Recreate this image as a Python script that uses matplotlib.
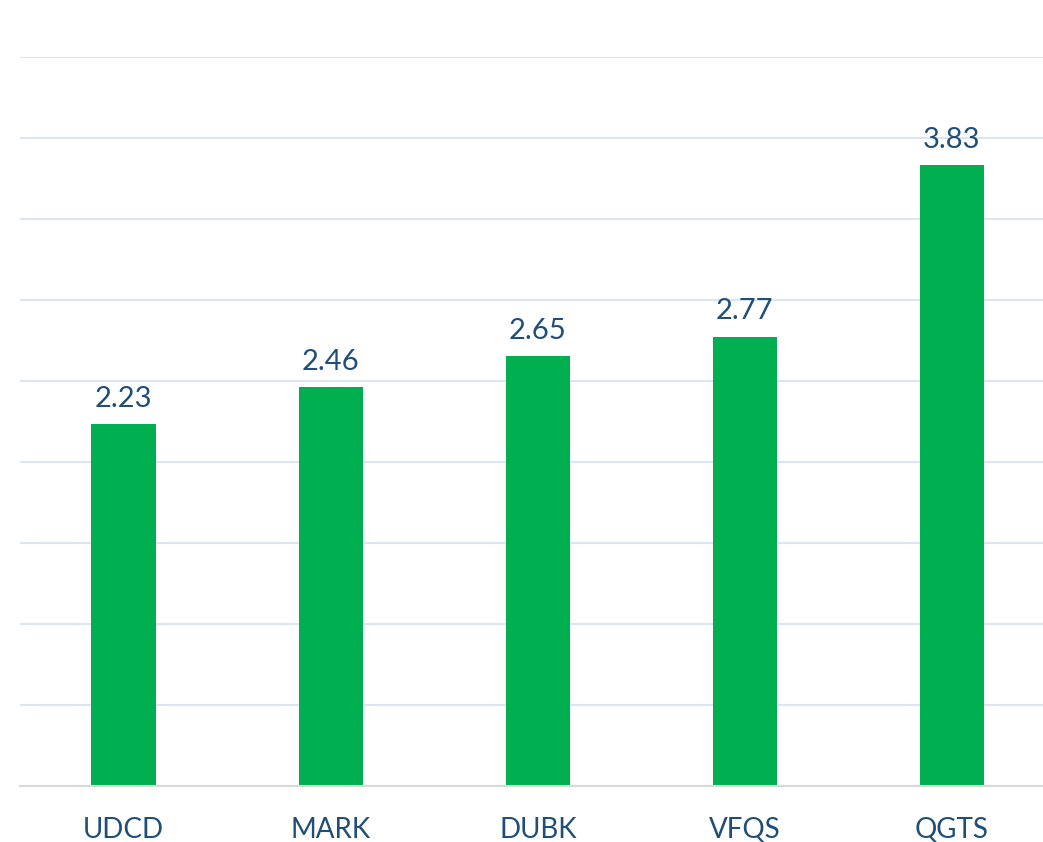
import numpy as np
import matplotlib.pyplot as plt

# chart data
categories = ['UDCD', 'MARK', 'DUBK', 'VFQS', 'QGTS']
values = [2.23, 2.46, 2.65, 2.77, 3.83]

bar_color = '#00B050'
text_color = '#1F4E79'
grid_color = '#DCE6F2'

plt.rcParams['font.family'] = ['Lato', 'DejaVu Sans']

fig = plt.figure(figsize=(10.43, 8.42), dpi=100)
# axes slightly wider than the figure so the last slot gets clipped like the reference
ax = fig.add_axes([20 / 1043, 56 / 842, 1035.5 / 1043, 729.5 / 842])

x = np.arange(len(categories))
bars = ax.bar(x, values, width=0.31, color=bar_color, zorder=3)

for xi, v in zip(x, values):
    ax.annotate('{:.2f}'.format(v), (xi, v), xytext=(0, 9), textcoords='offset points',
                ha='center', va='bottom', fontsize=21, color=text_color)

ax.set_xlim(-0.5, len(categories) - 0.5)
ax.set_ylim(0, 4.5)
ax.set_yticks(np.arange(0, 4.51, 0.5))
ax.yaxis.grid(True, color=grid_color, linewidth=1.5, zorder=0)
ax.tick_params(axis='y', left=False, labelleft=False)
ax.tick_params(axis='x', bottom=False, pad=19, labelsize=20, labelcolor=text_color)
ax.set_xticks(x)
ax.set_xticklabels(categories)

for side in ['top', 'right', 'left']:
    ax.spines[side].set_visible(False)
ax.spines['bottom'].set_color('#D9D9D9')
ax.spines['bottom'].set_linewidth(1.5)
ax.spines['bottom'].set_zorder(4)

fig.savefig('out.png', dpi=100)
